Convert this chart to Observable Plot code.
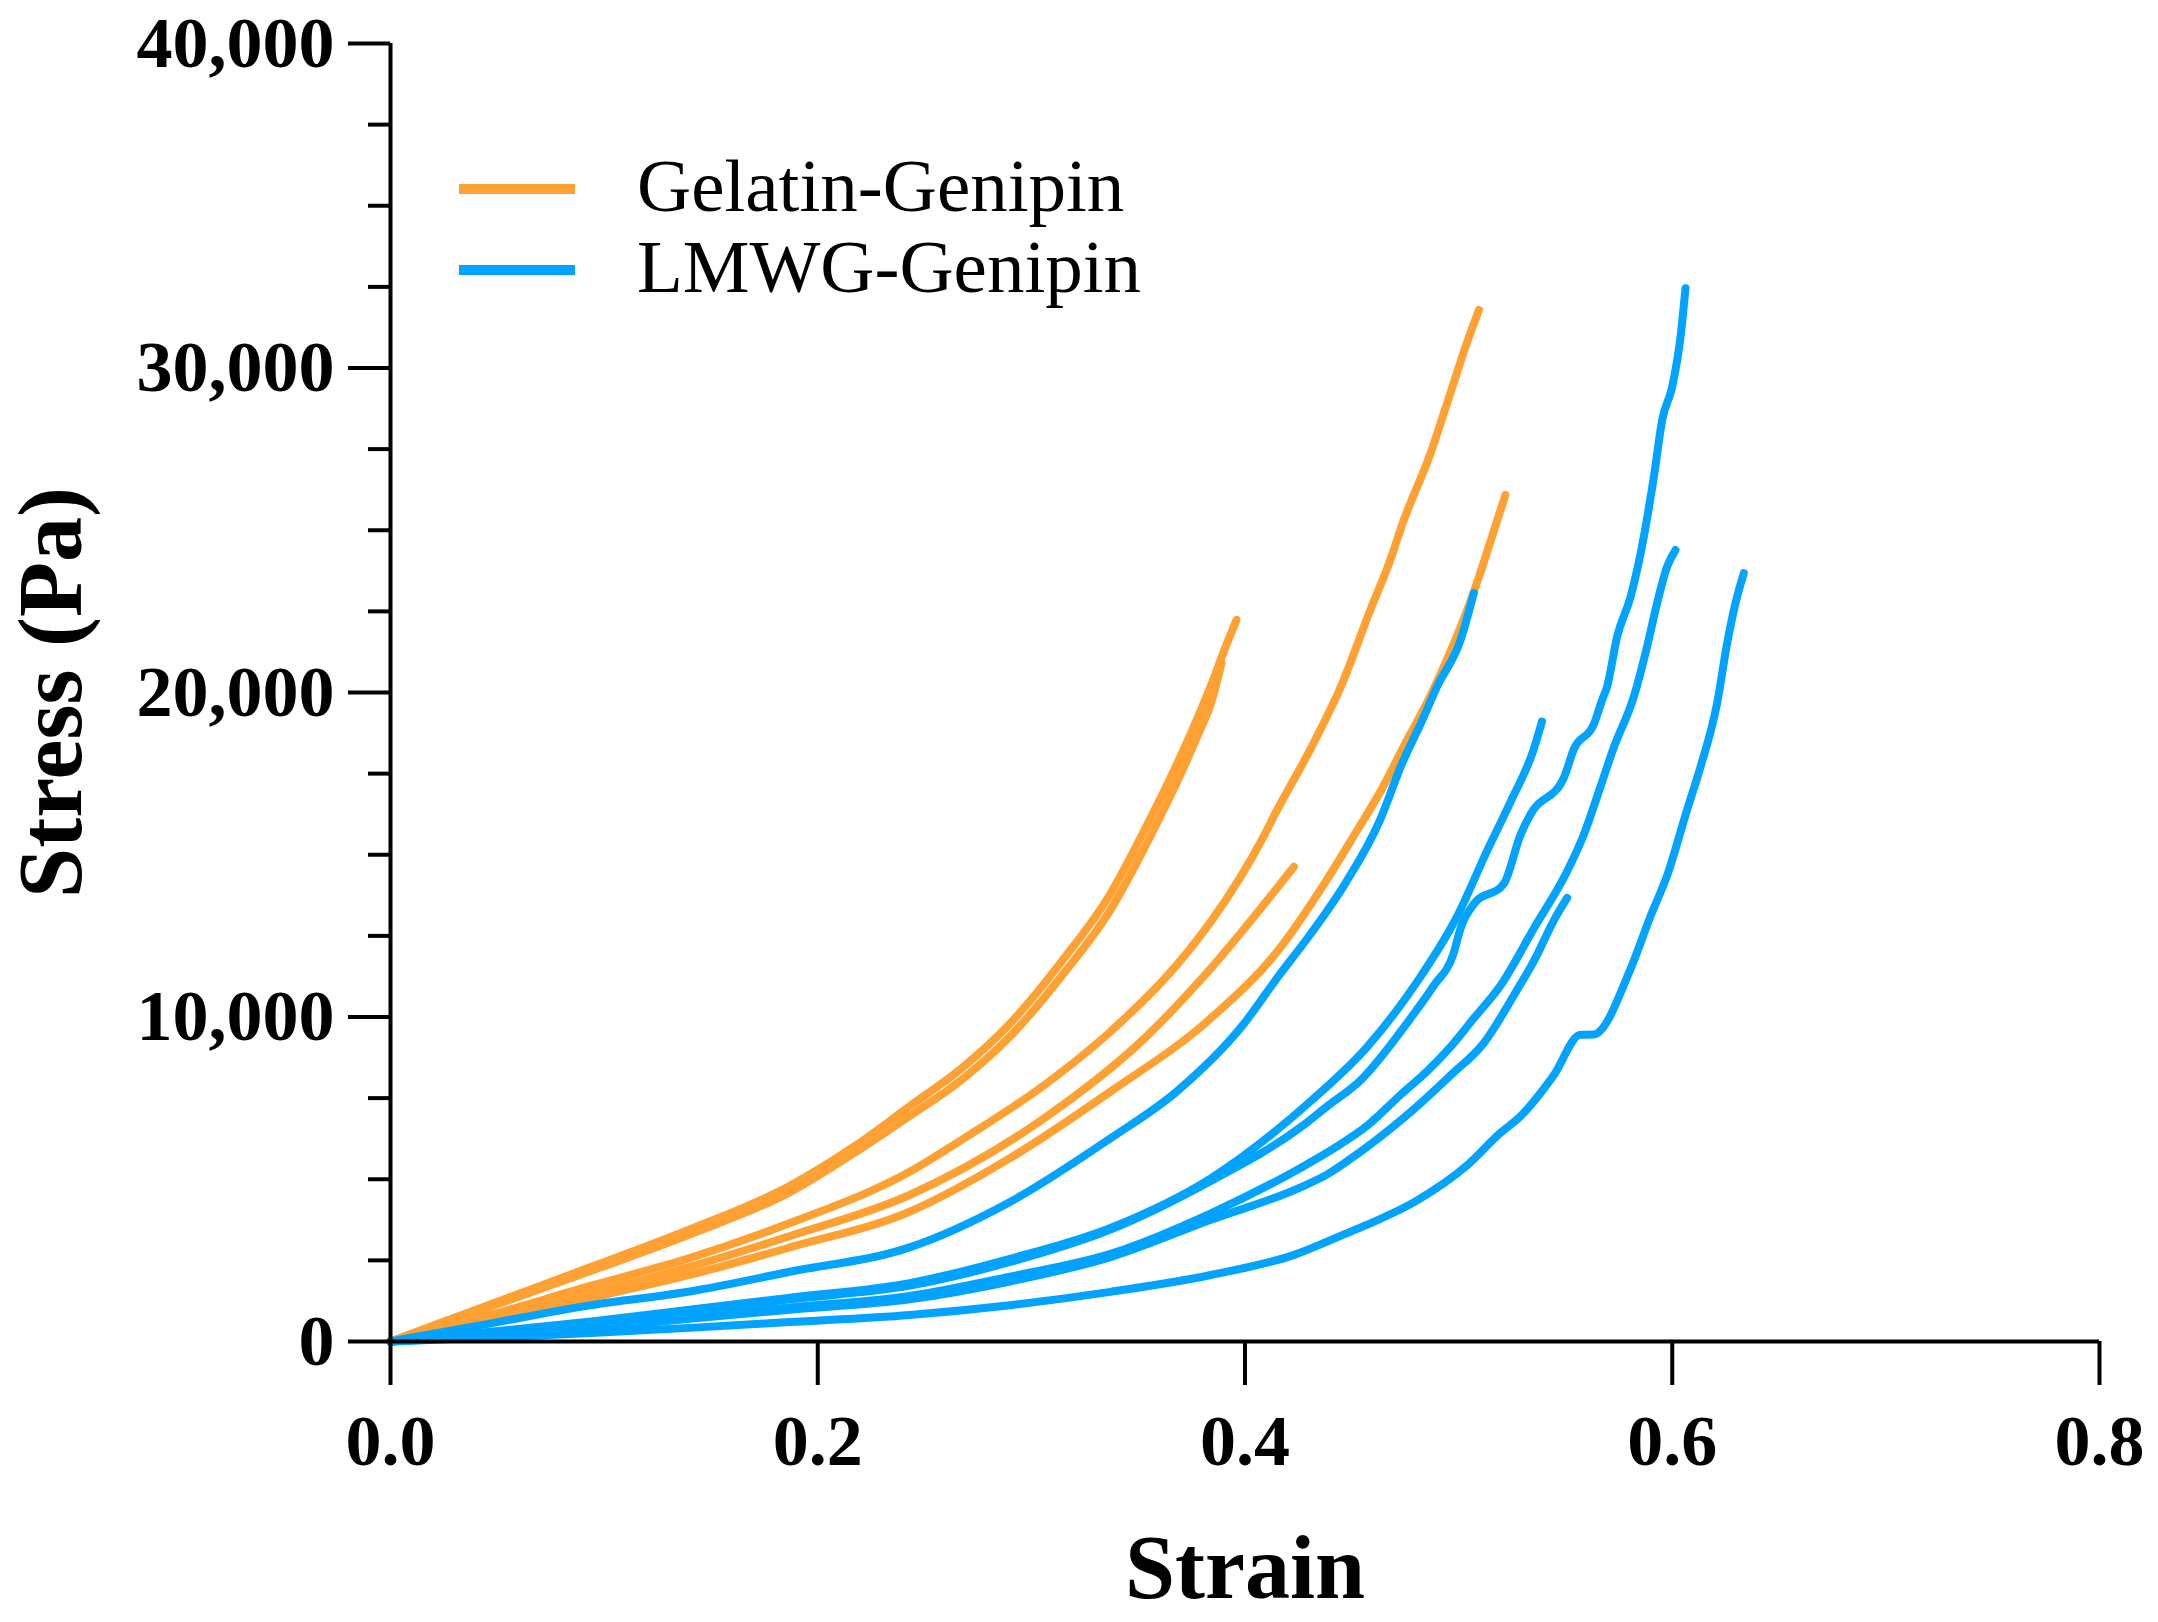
<!DOCTYPE html>
<html>
<head>
<meta charset="utf-8">
<script src="https://cdn.jsdelivr.net/npm/d3@7"></script>
<script src="https://cdn.jsdelivr.net/npm/@observablehq/plot@0.6"></script>
<style>
  body { margin: 0; background: #fff; }
</style>
</head>
<body>
<div id="chart"></div>
<script>
// stress-strain curves: [strain, stress (Pa)]
const gelatin1 = [[0,0],[0.047,1150],[0.094,2300],[0.140,3450],[0.187,4800],[0.218,6050],[0.243,7250],[0.267,8400],[0.290,9800],[0.314,11700],[0.337,13800],[0.354,15900],[0.362,16950],[0.371,18200],[0.378,19250],[0.384,20200],[0.390,21250],[0.396,22240]];
const gelatin2 = [[0,0],[0.047,1080],[0.094,2180],[0.140,3300],[0.187,4600],[0.218,5850],[0.243,6950],[0.267,8050],[0.290,9400],[0.314,11250],[0.337,13300],[0.354,15350],[0.362,16400],[0.371,17650],[0.378,18700],[0.384,19650],[0.389,20900]];
const gelatin3 = [[0,0],[0.047,820],[0.094,1720],[0.140,2570],[0.187,3650],[0.243,5230],[0.267,6200],[0.306,7900],[0.337,9550],[0.368,11600],[0.384,12940],[0.409,15600],[0.414,16250],[0.431,18300],[0.445,20200],[0.459,22600],[0.467,23900],[0.474,25250],[0.487,27400],[0.496,29200],[0.504,30800],[0.5095,31790]];
const gelatin4 = [[0,0],[0.047,720],[0.094,1480],[0.140,2300],[0.187,3250],[0.243,4515],[0.306,6880],[0.353,9345],[0.384,11500],[0.4229,14630]];
const gelatin5 = [[0,0],[0.047,680],[0.094,1350],[0.140,2050],[0.187,2900],[0.243,4000],[0.290,5650],[0.337,7700],[0.384,9960],[0.415,12010],[0.4385,14250],[0.452,15700],[0.4634,16950],[0.4744,18350],[0.4868,19900],[0.4977,21500],[0.5071,23100],[0.5149,24650],[0.5219,26090]];

const lmwg1 = [[0,0],[0.047,560],[0.094,1120],[0.140,1540],[0.187,2150],[0.243,2900],[0.290,4300],[0.337,6260],[0.368,7700],[0.399,9750],[0.415,11200],[0.4306,12550],[0.4463,14050],[0.4634,16100],[0.4728,17700],[0.4837,19250],[0.4899,20180],[0.5009,21620],[0.5071,23060]];
const lmwg2 = [[0,0],[0.047,300],[0.094,620],[0.140,980],[0.187,1350],[0.243,1800],[0.290,2550],[0.337,3500],[0.384,5030],[0.4306,7400],[0.4572,9080],[0.4806,11090],[0.4993,13100],[0.5133,15120],[0.5243,16630],[0.5352,18260],[0.539,19100]];
const lmwg3 = [[0,0],[0.047,280],[0.094,580],[0.140,930],[0.187,1300],[0.243,1720],[0.290,2450],[0.337,3450],[0.384,4950],[0.426,6600],[0.4385,7250],[0.4541,8050],[0.4775,9960],[0.4884,10970],[0.4977,11970],[0.5009,12730],[0.5071,13480],[0.5212,14110],[0.529,15620],[0.5337,16250],[0.5493,17380],[0.554,18260],[0.5633,19020],[0.5672,19770],[0.5695,20180],[0.5742,21720],[0.5805,22950],[0.5852,24290],[0.5914,26650],[0.5953,28400],[0.600,29430],[0.6039,30970],[0.6062,32460]];
const lmwg4 = [[0,0],[0.047,200],[0.094,450],[0.140,750],[0.187,1050],[0.243,1400],[0.290,2000],[0.337,2700],[0.384,3950],[0.426,5350],[0.4416,5950],[0.4572,6650],[0.4728,7600],[0.4853,8330],[0.4962,9080],[0.5071,9960],[0.5196,10970],[0.5352,12730],[0.5508,14490],[0.5586,15620],[0.5664,17100],[0.5726,18300],[0.582,19870],[0.5882,21410],[0.5929,22750],[0.5976,23880],[0.6015,24390]];
const lmwg5 = [[0,0],[0.047,180],[0.094,420],[0.140,700],[0.187,980],[0.243,1300],[0.290,1850],[0.337,2600],[0.384,3750],[0.426,4750],[0.4385,5150],[0.4541,5850],[0.4806,7250],[0.4962,8200],[0.5118,9200],[0.5274,10840],[0.5352,11720],[0.5446,12980],[0.5508,13670]];
const lmwg6 = [[0,0],[0.047,120],[0.094,260],[0.140,420],[0.187,600],[0.243,820],[0.290,1120],[0.337,1530],[0.384,2050],[0.423,2670],[0.4463,3300],[0.4572,3600],[0.4806,4350],[0.504,5430],[0.5196,6430],[0.5289,6940],[0.5445,8200],[0.557,9450],[0.5632,9460],[0.5804,11470],[0.5898,13100],[0.5976,14360],[0.607,16400],[0.6132,17700],[0.621,19670],[0.6257,21520],[0.6296,22750],[0.6335,23680]];

const groups = ["Gelatin-Genipin", "LMWG-Genipin"];
const colors = ["#FFA033", "#00A3FF"];

const xTicks = [0, 0.2, 0.4, 0.6, 0.8];
const yTicks = [0, 10000, 20000, 30000, 40000];
const yMinorTicks = [2500, 5000, 7500, 12500, 15000, 17500, 22500, 25000, 27500, 32500, 35000, 37500];

const curves = [
  {group: groups[0], list: [gelatin1, gelatin2, gelatin3, gelatin4, gelatin5]},
  {group: groups[1], list: [lmwg1, lmwg2, lmwg3, lmwg4, lmwg5, lmwg6]}
];

const rows = [];
curves.forEach(c => {
  c.list.forEach((pts, i) => {
    pts.forEach(([strain, stress]) => {
      rows.push({strain, stress, sample: c.group + i, group: c.group});
    });
  });
});

const chart = Plot.plot({
  width: 2158,
  height: 1622,
  marginLeft: 390,
  marginRight: 59,
  marginTop: 43,
  marginBottom: 281,
  style: {
    fontFamily: "'Liberation Serif', 'Times New Roman', serif",
    fontWeight: "bold",
    background: "white",
    color: "black"
  },
  x: {domain: [0, 0.8], label: null},
  y: {domain: [0, 40000], label: null},
  color: {domain: groups, range: colors},
  marks: [
    Plot.line(rows, {x: "strain", y: "stress", z: "sample", stroke: "group", strokeWidth: 8, curve: "monotone-x"}),
    Plot.ruleX([0], {y1: 0, y2: 40000, strokeWidth: 4}),
    Plot.ruleY([0], {x1: 0, x2: 0.8, strokeWidth: 4}),
    Plot.axisY({ticks: yTicks, tickSize: 42, tickPadding: 14, tickFormat: d3.format(","), fontSize: 72, strokeWidth: 4, label: null}),
    Plot.axisY({ticks: yMinorTicks, tickSize: 22, tickFormat: () => "", strokeWidth: 4, label: null}),
    Plot.axisX({ticks: xTicks, tickSize: 44, tickPadding: 28, tickFormat: d3.format(".1f"), fontSize: 72, strokeWidth: 4, label: null}),
    Plot.text(["Strain"], {frameAnchor: "bottom", textAnchor: "middle", lineAnchor: "middle", dy: 228, fontSize: 90, fontWeight: "bold"}),
    Plot.text(["Stress (Pa)"], {frameAnchor: "left", textAnchor: "middle", lineAnchor: "middle", dx: -338, rotate: -90, fontSize: 90, fontWeight: "bold"})
  ]
});

// legend sits inside the plot area, top left
const legend = d3.select(chart).append("g")
  .attr("font-family", "'Liberation Serif', 'Times New Roman', serif")
  .attr("font-weight", "normal")
  .attr("font-size", 75)
  .attr("text-anchor", "start");
groups.forEach((name, i) => {
  const y = 189 + i * 81;
  legend.append("line")
    .attr("x1", 459).attr("x2", 575)
    .attr("y1", y).attr("y2", y)
    .attr("stroke", colors[i])
    .attr("stroke-width", 10);
  legend.append("text")
    .attr("x", 637).attr("y", y + 22)
    .attr("fill", "black")
    .text(name);
});

document.getElementById("chart").appendChild(chart);
</script>
</body>
</html>
